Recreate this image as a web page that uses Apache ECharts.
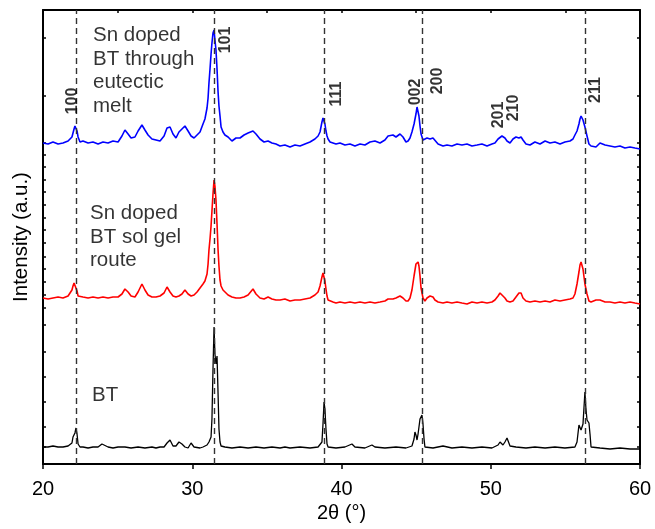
<!DOCTYPE html>
<html>
<head>
<meta charset="utf-8">
<script src="https://cdn.jsdelivr.net/npm/echarts@6/dist/echarts.min.js"></script>
<style>
  html, body { margin: 0; padding: 0; background: #fff; }
  #xrdChart { width: 655px; height: 529px; }
</style>
</head>
<body>
<div id="xrdChart"></div>
<script>
// 2θ (deg), intensity (a.u., traces already offset as in the figure)
var blueTrace = [
  [20.00, 321], [20.34, 320], [20.67, 322], [21.01, 320], [21.34, 321], [21.68, 323], [21.81, 325], [21.94, 327],
  [22.01, 331], [22.08, 335], [22.14, 338], [22.21, 339], [22.28, 333], [22.35, 327], [22.48, 322], [22.68, 323],
  [23.02, 321], [23.35, 322], [23.69, 320], [24.02, 322], [24.36, 321], [24.69, 323], [25.03, 322], [25.29, 328],
  [25.49, 334], [25.70, 330], [25.90, 326], [26.16, 327], [26.37, 333], [26.63, 339], [26.83, 334], [27.04, 329],
  [27.30, 325], [27.57, 324], [27.84, 323], [28.11, 328], [28.31, 336], [28.51, 337], [28.71, 330], [28.91, 326],
  [29.11, 332], [29.31, 335], [29.51, 338], [29.72, 333], [29.92, 328], [30.12, 326], [30.32, 329], [30.52, 332],
  [30.72, 340], [30.85, 345], [30.99, 356], [31.06, 366], [31.12, 381], [31.19, 395], [31.26, 410], [31.32, 421],
  [31.39, 431], [31.46, 434], [31.52, 424], [31.59, 414], [31.66, 395], [31.73, 372], [31.79, 358], [31.86, 348],
  [31.93, 337], [32.06, 332], [32.19, 329], [32.40, 327], [32.66, 323], [32.93, 326], [33.20, 326], [33.47, 329],
  [33.74, 331], [33.87, 330], [34.07, 333], [34.27, 330], [34.54, 325], [34.81, 322], [35.08, 323], [35.34, 321],
  [35.61, 320], [35.88, 318], [36.21, 319], [36.55, 317], [36.88, 319], [37.22, 318], [37.55, 320], [37.89, 322],
  [38.22, 325], [38.43, 328], [38.56, 332], [38.69, 342], [38.76, 346], [38.83, 345], [38.89, 340], [38.96, 333],
  [39.03, 328], [39.10, 325], [39.23, 322], [39.43, 321], [39.63, 320], [39.90, 321], [40.23, 319], [40.57, 320],
  [40.90, 318], [41.24, 320], [41.57, 319], [41.91, 322], [42.24, 323], [42.58, 321], [42.91, 324], [43.12, 328],
  [43.25, 327], [43.45, 329], [43.65, 327], [43.92, 330], [44.12, 327], [44.32, 322], [44.46, 323], [44.59, 326],
  [44.72, 332], [44.86, 340], [44.99, 350], [45.06, 357], [45.13, 356], [45.19, 348], [45.26, 338], [45.33, 330],
  [45.46, 324], [45.59, 323], [45.73, 326], [45.93, 325], [46.13, 326], [46.26, 325], [46.47, 320], [46.80, 318],
  [47.07, 319], [47.40, 318], [47.74, 320], [48.07, 319], [48.41, 320], [48.74, 318], [49.08, 319], [49.41, 320],
  [49.75, 318], [50.08, 320], [50.28, 321], [50.49, 325], [50.62, 327], [50.75, 328], [50.95, 326], [51.09, 323],
  [51.29, 321], [51.49, 325], [51.69, 327], [51.89, 326], [52.03, 327], [52.16, 324], [52.36, 320], [52.63, 319],
  [52.96, 322], [53.30, 320], [53.64, 323], [53.97, 321], [54.30, 322], [54.64, 320], [54.97, 322], [55.31, 323],
  [55.51, 325], [55.64, 329], [55.78, 333], [55.91, 340], [55.98, 345], [56.05, 348], [56.11, 349], [56.18, 344],
  [56.31, 337], [56.45, 328], [56.58, 320], [56.72, 318], [56.85, 319], [57.05, 317], [57.32, 321], [57.66, 319],
  [57.99, 318], [58.32, 317], [58.66, 318], [58.99, 316], [59.33, 317], [59.66, 316], [60.00, 315]
]

var redTrace = [
  [20.00, 166], [20.34, 165], [20.67, 166], [21.01, 167], [21.34, 166], [21.68, 168], [21.81, 170], [21.94, 174],
  [22.01, 178], [22.08, 181], [22.14, 182], [22.21, 179], [22.28, 173], [22.35, 168], [22.48, 166], [22.68, 167],
  [23.02, 166], [23.35, 167], [23.69, 166], [24.02, 167], [24.36, 166], [24.69, 167], [25.03, 167], [25.29, 170],
  [25.49, 175], [25.70, 172], [25.90, 168], [26.16, 167], [26.37, 172], [26.63, 180], [26.83, 174], [27.04, 169],
  [27.30, 167], [27.57, 167], [27.84, 168], [28.11, 171], [28.31, 177], [28.51, 172], [28.71, 168], [28.91, 167],
  [29.11, 168], [29.31, 170], [29.51, 174], [29.72, 170], [29.92, 168], [30.12, 169], [30.32, 172], [30.52, 176],
  [30.72, 180], [30.85, 183], [30.99, 190], [31.06, 200], [31.12, 214], [31.19, 225], [31.26, 238], [31.32, 253],
  [31.39, 270], [31.46, 284], [31.52, 278], [31.59, 264], [31.66, 240], [31.73, 214], [31.79, 198], [31.86, 184],
  [31.93, 178], [32.06, 174], [32.19, 172], [32.40, 169], [32.66, 167], [32.93, 166], [33.20, 166], [33.47, 167],
  [33.74, 169], [33.87, 171], [34.07, 175], [34.27, 170], [34.54, 166], [34.81, 165], [35.08, 167], [35.34, 165],
  [35.61, 164], [35.88, 164], [36.21, 165], [36.55, 163], [36.88, 164], [37.22, 164], [37.55, 165], [37.89, 166],
  [38.22, 169], [38.43, 172], [38.56, 178], [38.69, 187], [38.76, 191], [38.83, 189], [38.89, 183], [38.96, 175],
  [39.03, 168], [39.10, 164], [39.23, 162], [39.43, 162], [39.63, 161], [39.90, 162], [40.23, 161], [40.57, 162],
  [40.90, 161], [41.24, 162], [41.57, 161], [41.91, 162], [42.24, 161], [42.58, 162], [42.91, 163], [43.12, 165],
  [43.25, 166], [43.45, 165], [43.65, 166], [43.92, 168], [44.12, 166], [44.32, 163], [44.46, 163], [44.59, 166],
  [44.72, 174], [44.86, 188], [44.99, 200], [45.06, 202], [45.13, 202], [45.19, 198], [45.26, 188], [45.33, 176],
  [45.46, 166], [45.59, 163], [45.73, 166], [45.93, 168], [46.13, 167], [46.26, 164], [46.47, 162], [46.80, 161],
  [47.07, 162], [47.40, 161], [47.74, 162], [48.07, 161], [48.41, 160], [48.74, 162], [49.08, 161], [49.41, 162],
  [49.75, 161], [50.08, 162], [50.28, 164], [50.49, 168], [50.62, 171], [50.75, 171], [50.95, 166], [51.09, 163],
  [51.29, 162], [51.49, 163], [51.69, 167], [51.89, 171], [52.03, 171], [52.16, 166], [52.36, 163], [52.63, 162],
  [52.96, 163], [53.30, 162], [53.64, 163], [53.97, 162], [54.30, 164], [54.64, 163], [54.97, 164], [55.31, 165],
  [55.51, 166], [55.64, 170], [55.78, 180], [55.91, 192], [55.98, 199], [56.05, 202], [56.11, 201], [56.18, 195],
  [56.31, 180], [56.45, 170], [56.58, 163], [56.72, 162], [56.85, 163], [57.05, 164], [57.32, 164], [57.66, 162],
  [57.99, 162], [58.32, 161], [58.66, 162], [58.99, 161], [59.33, 162], [59.66, 161], [60.00, 160]
]

var blackTrace = [
  [20.00, 17], [20.34, 17], [20.67, 18], [21.01, 17], [21.34, 17], [21.68, 18], [21.81, 19], [21.94, 21],
  [22.01, 27], [22.08, 28], [22.14, 31], [22.21, 36], [22.28, 30], [22.35, 20], [22.48, 17], [22.68, 17],
  [23.02, 16], [23.35, 17], [23.69, 17], [23.95, 20], [24.02, 19], [24.36, 17], [24.69, 16], [25.03, 17],
  [25.49, 17], [25.90, 16], [26.37, 17], [26.83, 16], [27.30, 17], [27.57, 16], [27.84, 17], [28.11, 17],
  [28.31, 21], [28.51, 24], [28.71, 18], [28.91, 18], [29.11, 22], [29.31, 20], [29.51, 17], [29.72, 16],
  [29.92, 21], [30.12, 17], [30.52, 16], [30.72, 17], [30.99, 19], [31.12, 22], [31.26, 27], [31.32, 45],
  [31.39, 95], [31.46, 137], [31.52, 110], [31.59, 100], [31.66, 108], [31.73, 70], [31.79, 35], [31.86, 22],
  [31.93, 18], [32.19, 17], [32.66, 16], [33.20, 17], [33.74, 16], [34.27, 17], [34.81, 16], [35.34, 17],
  [35.88, 16], [36.21, 17], [36.55, 16], [37.22, 17], [37.89, 16], [38.43, 17], [38.69, 22], [38.76, 40],
  [38.83, 62], [38.89, 55], [38.96, 35], [39.03, 20], [39.10, 17], [39.63, 16], [40.23, 17], [40.70, 20],
  [40.90, 17], [41.57, 16], [42.04, 19], [42.24, 17], [42.91, 16], [43.65, 17], [44.32, 16], [44.72, 18],
  [44.86, 25], [44.92, 32], [44.99, 29], [45.06, 24], [45.13, 30], [45.26, 45], [45.39, 49], [45.46, 40],
  [45.53, 25], [45.59, 17], [46.13, 16], [46.80, 18], [47.40, 16], [48.07, 17], [48.74, 16], [49.41, 17],
  [50.08, 16], [50.49, 19], [50.62, 22], [50.82, 19], [50.95, 22], [51.09, 26], [51.29, 18], [51.69, 17],
  [52.36, 16], [52.96, 17], [53.64, 16], [54.30, 17], [54.97, 16], [55.64, 17], [55.78, 22], [55.91, 39],
  [56.05, 34], [56.18, 40], [56.31, 72], [56.38, 55], [56.45, 44], [56.58, 41], [56.65, 30], [56.72, 17],
  [57.32, 16], [57.99, 15], [58.66, 16], [59.33, 15], [60.00, 15]
]

// dashed reference positions (2θ)
var refLines = [22.25, 31.46, 38.83, 45.4, 56.3]

// reflection labels: [2θ, intensity, text]
var hklLabels = [
  [22.01, 363, '100'], [32.26, 424, '101'], [39.70, 370, '111'], [44.99, 372, '002'],
  [46.47, 383, '200'], [50.55, 349, '201'], [51.56, 356, '210'], [57.05, 374, '211']
]

// sample names: [2θ, intensity, text]
var sampleNames = [
  [23.35, 440, 'Sn doped\nBT through\neutectic\nmelt'],
  [23.15, 262, 'Sn doped\nBT sol gel\nroute'],
  [23.28, 80, 'BT']
]

var yTickValues = [426, 368, 321, 309, 297, 284, 272, 259, 246, 234, 221, 207, 195, 182, 169, 156, 139, 112, 87, 62, 37, 17]

var fontFamily = '"Liberation Sans", Arial, Helvetica, sans-serif'

var chart = echarts.init(document.getElementById('xrdChart'))

var option = {
  animation: false,
  backgroundColor: '#fff',
  grid: { left: 43, right: 15, top: 10, bottom: 65, containLabel: false },
  xAxis: [
    {
      type: 'value',
      min: 20,
      max: 60,
      interval: 10,
      position: 'bottom',
      name: '2θ (°)',
      nameLocation: 'middle',
      nameGap: 38,
      nameTextStyle: { fontFamily: fontFamily, fontSize: 20, color: '#000' },
      axisLine: { show: true, onZero: false, lineStyle: { color: '#000', width: 2 } },
      axisTick: { show: true, inside: false, length: 5, lineStyle: { color: '#000', width: 1.5 } },
      axisLabel: { fontFamily: fontFamily, fontSize: 20, color: '#000', margin: 15 },
      splitLine: { show: false }
    },
    {
      type: 'value',
      min: 20,
      max: 60,
      interval: 5,
      position: 'top',
      axisLine: { show: true, onZero: false, lineStyle: { color: '#000', width: 2 } },
      axisTick: { show: true, inside: true, length: 3, lineStyle: { color: '#000', width: 1.5 } },
      axisLabel: { show: false },
      splitLine: { show: false }
    }
  ],
  yAxis: [
    {
      type: 'value',
      min: 0,
      max: 454,
      position: 'left',
      name: 'Intensity (a.u.)',
      nameLocation: 'middle',
      nameGap: 11,
      nameTextStyle: { fontFamily: fontFamily, fontSize: 20.5, color: '#000' },
      axisLine: { show: true, onZero: false, lineStyle: { color: '#000', width: 2 } },
      axisTick: { show: true, inside: true, length: 3, customValues: yTickValues, lineStyle: { color: '#000', width: 1.5 } },
      axisLabel: { show: false },
      splitLine: { show: false }
    },
    {
      type: 'value',
      min: 0,
      max: 454,
      position: 'right',
      axisLine: { show: true, onZero: false, lineStyle: { color: '#000', width: 2 } },
      axisTick: { show: true, inside: true, length: 3, customValues: yTickValues, lineStyle: { color: '#000', width: 1.5 } },
      axisLabel: { show: false },
      splitLine: { show: false }
    }
  ],
  series: [
    {
      name: 'BT',
      type: 'line',
      data: blackTrace,
      showSymbol: false,
      lineStyle: { color: '#000', width: 1.3 },
      z: 3,
      markLine: {
        silent: true,
        symbol: 'none',
        label: { show: false },
        lineStyle: { color: '#333', width: 1.4, type: [6, 4] },
        data: refLines.map(function (v) { return { xAxis: v } })
      }
    },
    {
      name: 'Sn doped BT sol gel route',
      type: 'line',
      data: redTrace,
      showSymbol: false,
      lineStyle: { color: '#ff0000', width: 1.6 },
      z: 3
    },
    {
      name: 'Sn doped BT through eutectic melt',
      type: 'line',
      data: blueTrace,
      showSymbol: false,
      lineStyle: { color: '#0000ff', width: 1.6 },
      z: 3
    },
    {
      name: 'hkl',
      type: 'scatter',
      symbolSize: 0,
      silent: true,
      data: hklLabels.map(function (d) { return { value: [d[0], d[1]], name: d[2] } }),
      label: {
        show: true,
        position: 'inside',
        rotate: 90,
        formatter: '{b}',
        fontFamily: fontFamily,
        fontSize: 16,
        fontWeight: 'bold',
        color: '#000'
      },
      z: 5
    },
    {
      name: 'samples',
      type: 'scatter',
      symbolSize: 0,
      silent: true,
      data: sampleNames.map(function (d) { return { value: [d[0], d[1]], name: d[2] } }),
      label: {
        show: true,
        position: 'inside',
        align: 'left',
        verticalAlign: 'top',
        formatter: '{b}',
        fontFamily: fontFamily,
        fontSize: 20.5,
        lineHeight: 23.5,
        color: '#000'
      },
      z: 5
    }
  ]
}

chart.setOption(option)
</script>
</body>
</html>
